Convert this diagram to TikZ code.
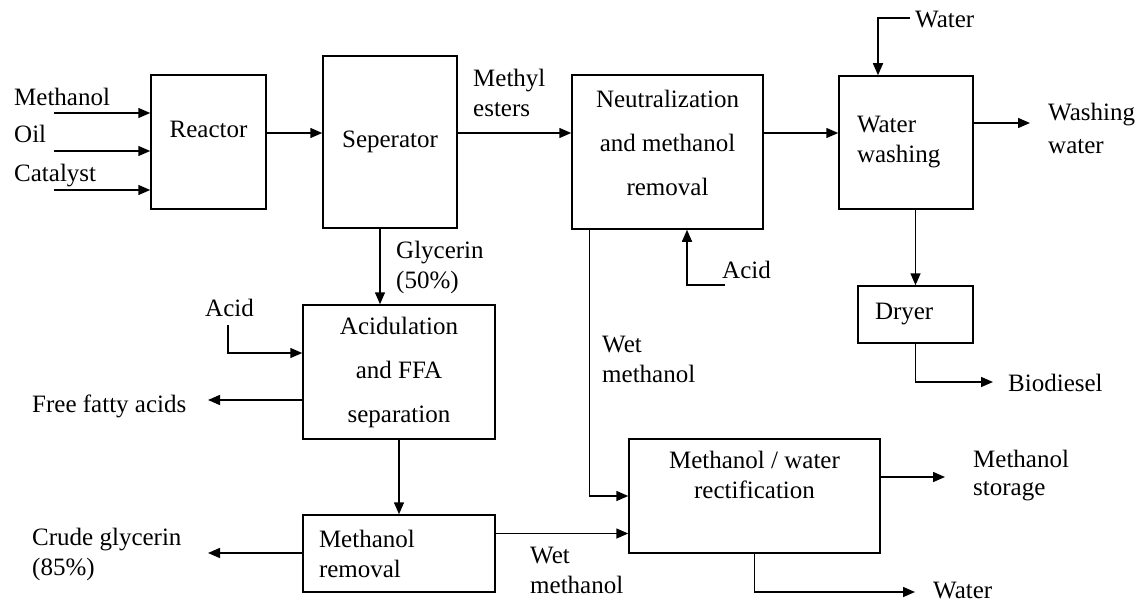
\documentclass[tikz,border=0pt]{standalone}
\usepackage{fontspec}
\setmainfont{Liberation Serif}
\usetikzlibrary{arrows.meta,positioning}

\begin{document}
\begin{tikzpicture}[
        x=1pt, y=-1pt,
        box/.style={draw, line width=1.5pt, inner sep=0pt},
        flow/.style={line width=1.5pt, -{Triangle[length=12pt,width=10pt]}},
        stream/.style={inner sep=0pt, anchor=base west, align=left},
        every node/.style={color=black, font=\fontsize{25}{30}\selectfont}
        ]
        \useasboundingbox (0,0) rectangle (1143,602);
        % Boxes
        \node[box, minimum width=115pt, minimum height=134pt,
            label={[yshift=13pt]center:Reactor}] (reactor) at (208.5,142) {};
        \node[box, minimum width=134pt, minimum height=172pt] (sep) at (390,142) {Seperator};
        \node[box, minimum width=191pt, minimum height=154pt,
            label={[yshift=9.5pt, align=center, font=\fontsize{25}{44}\selectfont]center:Neutralization\\and methanol\\removal}]
            (neut) at (667.5,152) {};
        \node[box, minimum width=134pt, minimum height=133pt, text width=98pt, align=left]
            (wash) at (906,142.5) {Water\\washing};
        \node[box, minimum width=115pt, minimum height=57pt, text width=81pt, align=left]
            (dryer) at (915.5,314.5) {Dryer};
        \node[box, minimum width=192pt, minimum height=134pt, align=center,
            font=\fontsize{25}{44}\selectfont] (acid) at (399,372) {Acidulation\\and FFA\\separation};
        \node[box, minimum width=192pt, minimum height=77pt, text width=160pt, align=left]
            (mrem) at (399,553.5) {Methanol\\removal};
        \node[box, minimum width=251pt, minimum height=114pt,
            label={[yshift=21.5pt, align=center]center:Methanol / water\\rectification}]
            (rect) at (754.5,496) {};
        % Streams (base = last line)
        \node[stream] (l-meth) at (14,105) {Methanol};
        \node[stream] (l-oil) at (14,142) {Oil};
        \node[stream] (l-cat) at (14,181) {Catalyst};
        \node[stream] (l-est) at (473,116) {Methyl\\esters};
        \node[stream] (l-gly) at (396,288) {Glycerin\\(50\%)};
        \node[stream] (l-acid2) at (722,278) {Acid};
        \node[stream] (l-wat) at (915,28) {Water};
        \node[stream] (l-ww) at (1048,153) {Washing\\[3pt]water};
        \node[stream] (l-bio) at (1008,391) {Biodiesel};
        \node[stream] (l-acid1) at (205,316) {Acid};
        \node[stream] (l-ffa) at (32,412) {Free fatty acids};
        \node[stream] (l-cg) at (32,575) {Crude glycerin\\(85\%)};
        \node[stream] (l-wm1) at (602,382) {Wet\\methanol};
        \node[stream] (l-wm2) at (530,593) {Wet\\methanol};
        \node[stream] (l-ms) at (973,495) {Methanol\\[-2pt]storage};
        \node[stream] (l-wb) at (933,598) {Water};
        % Free ends
        \coordinate (in-meth) at (54,113);
        \coordinate (in-oil) at (54,151);
        \coordinate (in-cat) at (54,190);
        \coordinate (in-wat) at (910,18);
        \coordinate (in-acid1) at (228,325);
        \coordinate (in-acid2) at (725,285);
        \coordinate (out-ww) at (1030,123);
        \coordinate (out-bio) at (993,382);
        \coordinate (out-ffa) at (208,400);
        \coordinate (out-cg) at (208,553);
        \coordinate (out-ms) at (945,477);
        \coordinate (out-wb) at (915,592);
        % Arrows
        \draw[flow] (in-meth) -- (in-meth -| reactor.west);
        \draw[flow] (in-oil) -- (in-oil -| reactor.west);
        \draw[flow] (in-cat) -- (in-cat -| reactor.west);
        \draw[flow] ([yshift=9pt]reactor.east) -- ([yshift=9pt]reactor.east -| sep.west);
        \draw[flow] ([yshift=9pt]sep.east) -- ([yshift=9pt]sep.east -| neut.west);
        \draw[flow] ([yshift=19pt]neut.east) -- ([yshift=19pt]neut.east -| wash.west);
        \draw[flow] (in-wat) -| ([xshift=-28pt]wash.north);
        \draw[flow] (wash.east |- out-ww) -- (out-ww);
        \draw[flow] (dryer.north |- wash.south) -- (dryer.north);
        \draw[flow] (dryer.south) |- (out-bio);
        \draw[flow] ([xshift=-10pt]sep.south) -- ([xshift=-10pt]sep.south |- acid.north);
        \draw[flow] (in-acid1) |- ([yshift=19pt]acid.west);
        \draw[flow] (acid.west |- out-ffa) -- (out-ffa);
        \draw[flow] (acid.south) -- (mrem.north);
        \draw[flow] (mrem.west |- out-cg) -- (out-cg);
        \draw[flow] ([yshift=20pt]mrem.east) -- ([yshift=20pt]mrem.east -| rect.west);
        \draw[flow] ([xshift=18pt]neut.south west) |- (rect.west);
        \draw[flow] (in-acid2) -| ([xshift=19.5pt]neut.south);
        \draw[flow] (rect.east |- out-ms) -- (out-ms);
        \draw[flow] (rect.south) |- (out-wb);
\end{tikzpicture}
\end{document}
